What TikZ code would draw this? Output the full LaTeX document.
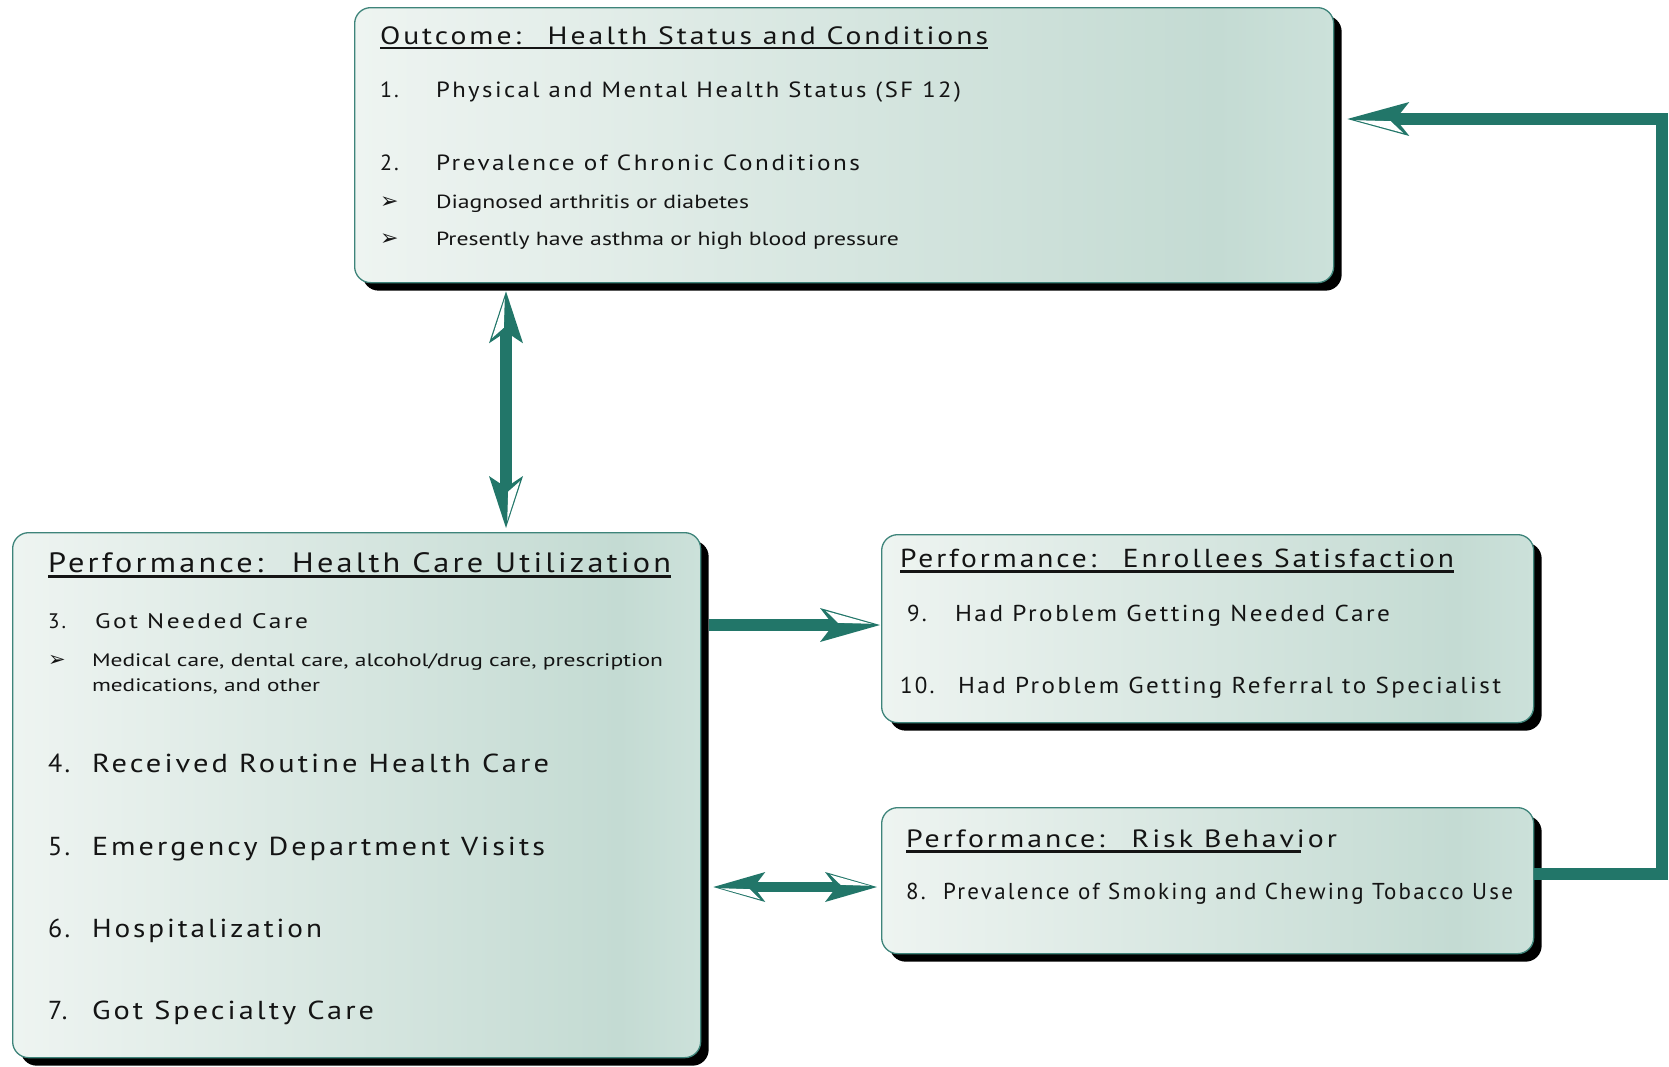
\documentclass[tikz,border=0pt]{standalone}
\usepackage{fontspec}
\usepackage{graphicx}
\setmainfont{PT Sans}
\newfontfamily\wideface[LetterSpace=10]{PT Sans}
\newfontfamily\dingface{DejaVu Sans}
\usetikzlibrary{shadows,calc}
\definecolor{arrowc}{RGB}{34,118,105}
\definecolor{edgec}{RGB}{62,132,122}
\definecolor{gl}{RGB}{238,244,241}
\definecolor{gm}{RGB}{196,219,211}
\definecolor{gr}{RGB}{204,225,218}
\definecolor{txtc}{RGB}{20,20,20}
\pgfdeclarehorizontalshading{boxshade}{100bp}{color(0bp)=(gl); color(25bp)=(gl); color(69bp)=(gm); color(75bp)=(gr); color(100bp)=(gr)}
\newcommand\fitw[2]{\resizebox{#1pt}{\height}{#2}}
\newcommand\arrowhead[4]{%
  \begin{scope}[shift={(#1)}, rotate=#2]
    \fill[arrowc] (0,0) -- (-#3,-#4) -- (-0.78*#3,0) -- (-#3,#4) -- cycle;
    \fill[white] (-0.14*#3,-1.2) -- (-0.9*#3,-0.82*#4) -- (-0.7*#3,-2.2) -- cycle;
  \end{scope}}
\tikzset{
  box/.style={rectangle, rounded corners=16pt, draw=edgec, line width=1.3pt,
    shading=boxshade, inner sep=0pt, anchor=north west,
    drop shadow={shadow xshift=8pt, shadow yshift=-8pt, fill=black, opacity=1}},
  txt/.style={anchor=base west, inner sep=0pt, outer sep=0pt, text=txtc},
  uline/.style={draw=txtc, line width=2.5pt},
  conn/.style={draw=arrowc, line width=12pt}
}
\begin{document}
\begin{tikzpicture}[x=1pt,y=-1pt]
\useasboundingbox (0,0) rectangle (1669,1066);

% ---------- boxes ----------
\node[box, minimum width=979pt, minimum height=275pt] (out) at (354,7) {};
\node[box, minimum width=688pt, minimum height=525pt] (util) at (12,532) {};
\node[box, minimum width=652pt, minimum height=188pt] (sat) at (881,534) {};
\node[box, minimum width=652pt, minimum height=146pt] (risk) at (881,807) {};

% ---------- outcome box text ----------
\node[txt] (ot) at (380,44) {\fitw{608}{\fontsize{25}{30}\wideface Outcome:\hspace{0.9em}Health Status and Conditions}};
\draw[uline] ([yshift=-4pt]ot.base west) -- ([yshift=-4pt]ot.base east);
\node[txt] (o1n) at (380,97) {\fontsize{22}{26}\wideface 1.};
\node[txt] (o1t) at (436,97) {\fitw{525}{\fontsize{22}{26}\wideface Physical and Mental Health Status (SF 12)}};
\node[txt] (o2n) at (380,170) {\fontsize{22}{26}\wideface 2.};
\node[txt] (o2t) at (436,170) {\fitw{424}{\fontsize{22}{26}\wideface Prevalence of Chronic Conditions}};
\node[txt] (ob1) at (380,208) {\fontsize{22}{26}\dingface ➢};
\node[txt] (ob1t) at (436,208) {\fitw{313}{\fontsize{19}{23}\selectfont Diagnosed arthritis or diabetes}};
\node[txt] (ob2) at (380,245) {\fontsize{22}{26}\dingface ➢};
\node[txt] (ob2t) at (436,245) {\fitw{463}{\fontsize{19}{23}\selectfont Presently have asthma or high blood pressure}};

% ---------- utilization box text ----------
\node[txt] (ut) at (48,572) {\fitw{623}{\fontsize{28}{33}\wideface Performance:\hspace{0.9em}Health Care Utilization}};
\draw[uline] ([yshift=-4.5pt]ut.base west) -- ([yshift=-4.5pt]ut.base east);
\node[txt] (u3n) at (48,628) {\fontsize{21}{25}\wideface 3.};
\node[txt] (u3t) at (95,628) {\fitw{213}{\fontsize{21}{25}\wideface Got Needed Care}};
\node[txt] (ub) at (48,666) {\fontsize{21}{25}\dingface ➢};
\node[txt] (ubt1) at (92,666) {\fitw{571}{\fontsize{18}{22}\selectfont Medical care, dental care, alcohol/drug care, prescription}};
\node[txt] (ubt2) at (92,691) {\fitw{228}{\fontsize{18}{22}\selectfont medications, and other}};
\node[txt] (u4n) at (48,772) {\fontsize{26}{30}\wideface 4.};
\node[txt] (u4t) at (92,772) {\fitw{457}{\fontsize{26}{30}\wideface Received Routine Health Care}};
\node[txt] (u5n) at (48,855) {\fontsize{26}{30}\wideface 5.};
\node[txt] (u5t) at (92,855) {\fitw{453}{\fontsize{26}{30}\wideface Emergency Department Visits}};
\node[txt] (u6n) at (48,937) {\fontsize{26}{30}\wideface 6.};
\node[txt] (u6t) at (92,937) {\fitw{230}{\fontsize{26}{30}\wideface Hospitalization}};
\node[txt] (u7n) at (48,1019) {\fontsize{26}{30}\wideface 7.};
\node[txt] (u7t) at (92,1019) {\fitw{282}{\fontsize{26}{30}\wideface Got Specialty Care}};

% ---------- satisfaction box text ----------
\node[txt] (st) at (900,567) {\fitw{554}{\fontsize{26}{30}\wideface Performance:\hspace{0.9em}Enrollees Satisfaction}};
\draw[uline] ([yshift=-4.5pt]st.base west) -- ([yshift=-4.5pt]st.base east);
\node[txt] (s9n) at (907,621) {\fontsize{23}{27}\wideface 9.};
\node[txt] (s9t) at (955,621) {\fitw{435}{\fontsize{23}{27}\wideface Had Problem Getting Needed Care}};
\node[txt] (s10n) at (900,693) {\fontsize{23}{27}\wideface 10.};
\node[txt] (s10t) at (958,693) {\fitw{543}{\fontsize{23}{27}\wideface Had Problem Getting Referral to Specialist}};

% ---------- risk box text ----------
\node[txt] (rt) at (906,847) {\fitw{431}{\fontsize{25}{30}\wideface Performance:\hspace{0.9em}Risk Behavior}};
\coordinate (rue) at (1301,851.5);
\draw[uline] ([yshift=-4.5pt]rt.base west) -- (rue);
\node[txt] (r8n) at (906,899) {\fontsize{23}{27}\wideface 8.};
\node[txt] (r8t) at (943,899) {\fitw{570}{\fontsize{23}{27}\wideface Prevalence of Smoking and Chewing Tobacco Use}};

% ---------- connectors ----------
\coordinate (vt) at ($(out.south west)+(152,8)$);
\coordinate (vb) at ($(util.north west)+(494,-4)$);
\draw[conn, shorten <=40pt, shorten >=40pt] (vt) -- (vb);
\arrowhead{vt}{90}{52}{17}
\arrowhead{vb}{-90}{52}{17}

\coordinate (ra) at ($(util.north east)+(8,93)$);
\coordinate (rb) at ($(sat.north west)+(-1,91)$);
\draw[conn, shorten >=44pt] (ra) -- (rb);
\arrowhead{rb}{0}{60}{17}

\coordinate (da) at ($(util.north east)+(12,355)$);
\coordinate (db) at ($(risk.north west)+(-4,80)$);
\draw[conn, line width=10pt, shorten <=38pt, shorten >=38pt] (da) -- (db);
\arrowhead{da}{180}{52}{15}
\arrowhead{db}{0}{52}{15}

\coordinate (fs) at ($(risk.north east)+(0,67)$);
\coordinate (fc) at (1662,119);
\coordinate (ft) at ($(out.north east)+(13,112)$);
\draw[conn, line join=miter] (fs) -| (fc) -- ($(ft)+(44,0)$);
\arrowhead{ft}{180}{62}{17}
\end{tikzpicture}
\end{document}
